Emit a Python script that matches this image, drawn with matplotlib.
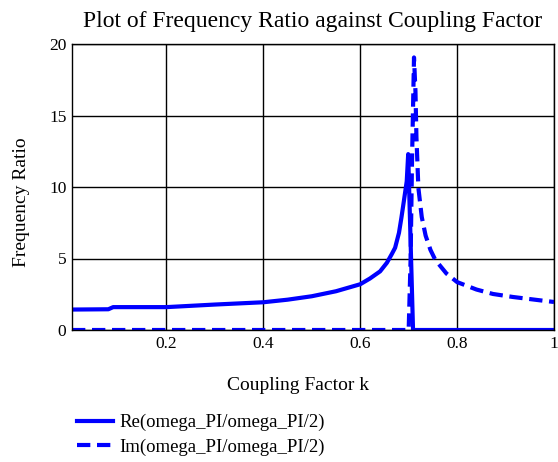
import matplotlib
matplotlib.use("Agg")
import matplotlib.pyplot as plt

# coupling factor k and frequency ratio
k_re = [0.005, 0.08, 0.09, 0.2, 0.3, 0.4, 0.45, 0.5, 0.55, 0.6, 0.62,
        0.641, 0.655, 0.665, 0.672, 0.68, 0.685, 0.69, 0.696, 0.699,
        0.709, 1.0]
re_vals = [1.43, 1.45, 1.6, 1.6, 1.78, 1.94, 2.12, 2.36, 2.71, 3.2, 3.6,
           4.1, 4.7, 5.3, 5.75, 6.8, 7.85, 9.0, 10.4, 12.3,
           0.0, 0.0]

k_im = [0.005, 0.700, 0.704, 0.707, 0.711, 0.714, 0.716, 0.720, 0.727,
        0.735, 0.745, 0.755, 0.778, 0.80, 0.84, 0.874, 0.915, 0.97, 1.0]
im_vals = [0.0, 0.0, 5.0, 12.0, 19.06, 16.7, 13.5, 9.95, 7.9,
           6.6, 5.6, 4.9, 3.95, 3.35, 2.83, 2.52, 2.31, 2.08, 1.96]

x_ticks = [0.2, 0.4, 0.6, 0.8, 1.0]
x_tick_labels = ["0.2", "0.4", "0.6", "0.8", "1"]
y_ticks = [0, 5, 10, 15, 20]

plt.rcParams['font.family'] = ['Liberation Serif', 'DejaVu Serif']

fig = plt.figure(figsize=(5.58, 4.62), dpi=100)
ax = fig.add_axes([72 / 558, 1 - 330 / 462, 482 / 558, 286 / 462])

blue = (0, 0, 1)
ax.plot(k_re, re_vals, color=blue, lw=3, label="Re(omega_PI/omega_PI/2)")
ax.plot(k_im, im_vals, color=blue, lw=3, dashes=(3.2, 1.6),
        label="Im(omega_PI/omega_PI/2)")

ax.set_xlim(0.005, 1.0)
ax.set_ylim(0, 20)
ax.set_xticks(x_ticks)
ax.set_xticklabels(x_tick_labels)
ax.set_yticks(y_ticks)
ax.tick_params(length=0, labelsize=12.5, pad=4)
ax.grid(True, color='black', lw=1)
for s in ax.spines.values():
    s.set_color('black')
    s.set_linewidth(1)

ax.set_title("Plot of Frequency Ratio against Coupling Factor", fontsize=17, pad=12)
ax.set_xlabel("Coupling Factor k", fontsize=14)
ax.set_ylabel("Frequency Ratio", fontsize=14)
ax.xaxis.set_label_coords((298 - 72) / 482, -0.165)
ax.yaxis.set_label_coords(-0.087, 0.448)

fig.legend(loc='upper left', bbox_to_anchor=(60 / 558, 1 - 397 / 462),
           frameon=False, fontsize=13.5, handlelength=1.9, handletextpad=0.35,
           labelspacing=0.4)

fig.savefig("out.png", dpi=100)
